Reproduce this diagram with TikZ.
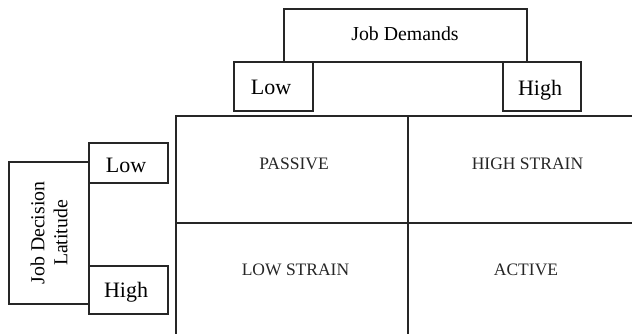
\documentclass[tikz,border=0pt]{standalone}
\usepackage{fontspec}
\setmainfont{Liberation Serif}
\begin{document}
\begin{tikzpicture}[x=1pt,y=-1pt,
  box/.style={draw=black!85, line width=1.3pt, inner sep=0pt, anchor=center},
  lbl/.style={inner sep=0pt, anchor=base},
  midfont/.style={font=\fontsize{19.8}{23}\selectfont},
  bigfont/.style={font=\fontsize{22}{26}\selectfont},
  cellfont/.style={font=\fontsize{17.5}{20}\selectfont, text=black!85},
  gridline/.style={draw=black!85, line width=1.3pt}]
\useasboundingbox (0,0) rectangle (632,334);
% top labels
\node[box, minimum width=243pt, minimum height=53pt] (jd) at (405.5,35.5) {};
\node[lbl, midfont] (jdt) at (405,41) {Job Demands};
\node[box, minimum width=79pt, minimum height=49pt] (lowd) at (273.5,86.5) {};
\node[lbl, bigfont] (lowdt) at (271,95) {Low};
\node[box, minimum width=78pt, minimum height=49pt] (highd) at (542,86.5) {};
\node[lbl, bigfont] (highdt) at (540,96) {High};
% left labels
\node[box, minimum width=142pt, minimum height=80pt, rotate=90] (jdl) at (49,233) {};
\node[midfont, rotate=90, align=center] (jdltext) at (jdl.center) {Job Decision\\Latitude};
\node[box, minimum width=79pt, minimum height=40pt] (lowl) at (128.5,163) {};
\node[lbl, bigfont] (lowlt) at (126,172) {Low};
\node[box, minimum width=79pt, minimum height=48pt] (highl) at (128.5,290) {};
\node[lbl, bigfont] (highlt) at (126,297) {High};
% grid
\coordinate (gtl) at (176,116);
\coordinate (gtr) at (632,116);
\coordinate (gbl) at (176,334);
\coordinate (gmt) at (408,116);
\coordinate (gmb) at (408,334);
\coordinate (gml) at (176,223);
\coordinate (gmr) at (632,223);
\draw[gridline] (gtr) -- (gtl) -- (gbl);
\draw[gridline] (gmt) -- (gmb);
\draw[gridline] (gml) -- (gmr);
% cells
\node[lbl, cellfont] (passive) at (294,169) {PASSIVE};
\node[lbl, cellfont] (hstrain) at (527.5,169) {HIGH STRAIN};
\node[lbl, cellfont] (lstrain) at (295.5,275.5) {LOW STRAIN};
\node[lbl, cellfont] (active) at (526,275.5) {ACTIVE};
\end{tikzpicture}
\end{document}
